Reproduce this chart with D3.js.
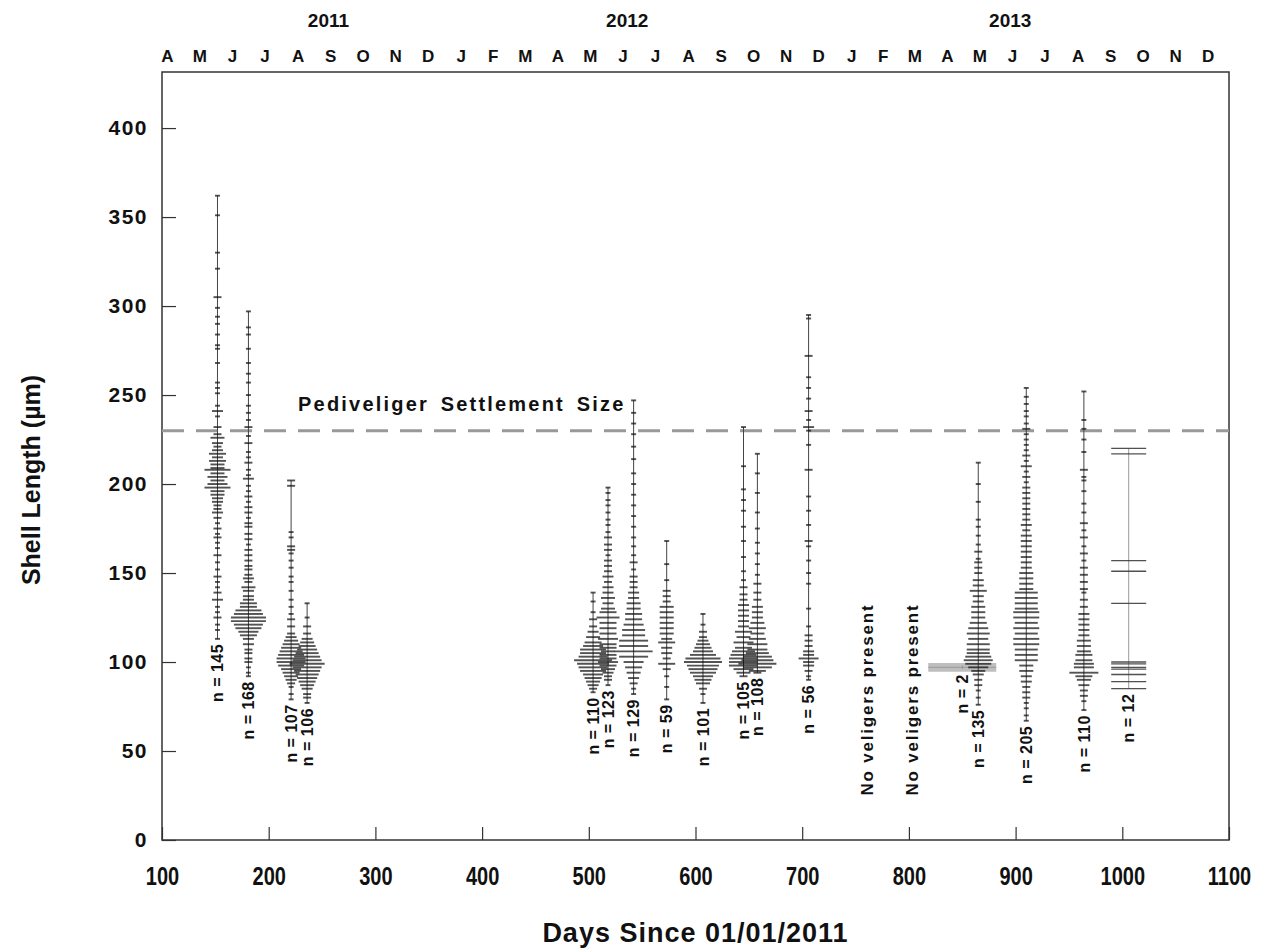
<!DOCTYPE html>
<html>
<head>
<meta charset="utf-8">
<script src="https://cdn.jsdelivr.net/npm/d3@7"></script>
<style>
  html, body { margin: 0; padding: 0; background: #fff; }
  svg { display: block; }
  text { font-family: "Liberation Sans", Arial, Helvetica, sans-serif; font-weight: bold; fill: #111; }
</style>
</head>
<body>
<svg id="chart" width="1271" height="951"></svg>
<script>
// Sampling days (days since 01/01/2011) for each veliger sample
const sampleDays = [152, 181, 221, 236, 504, 518, 542, 573, 607, 645, 658, 706, 850, 865, 910, 964, 1006];

// Distinct shell lengths (µm) measured in each sample
const lengths = [
  [362,351,330,321,305,299,294,290,284,278,276,268,257,254,251,244,241,238,232,228,226,223,221,219,217,215,213,211,209,208,206,204,202,200,198,196,194,192,190,188,186,184,181,178,175,172,170,167,164,160,156,152,148,145,142,139,135,131,128,125,121,118,113],
  [297,288,284,276,268,262,257,250,244,240,236,232,227,223,218,215,212,208,205,203,199,196,193,190,187,184,181,178,176,172,169,166,163,160,157,154,152,149,147,145,142,140,137,135,133,131,129,127,125,123,121,119,117,115,113,110,107,105,102,100,97,94,92],
  [202,199,173,170,165,163,161,157,153,148,145,140,135,131,127,124,120,116,114,112,110,108,106,104,102,100,98,96,94,92,90,88,86,82,79],
  [133,125,120,116,113,111,109,107,105,103,101,99,97,95,93,91,89,87,85,82,80,77],
  [139,134,128,124,120,117,114,111,109,107,105,103,101,99,97,95,93,91,89,87,85,83],
  [198,195,191,188,184,180,177,173,170,166,163,160,157,154,151,148,145,142,139,136,133,130,128,125,122,119,116,113,110,108,106,104,102,100,98,96,94,92,90,87],
  [247,240,234,228,221,214,206,200,194,188,182,176,170,165,160,156,152,148,145,142,139,136,133,130,127,124,121,118,115,112,109,106,103,100,97,94,91,88,85,82],
  [168,155,146,140,137,134,131,128,125,122,119,116,113,111,108,105,102,99,96,92,86,79],
  [127,121,117,114,112,110,108,106,104,102,100,98,96,94,92,90,88,85,82,77],
  [232,210,197,191,185,176,168,159,151,146,142,138,135,132,129,126,123,120,117,114,111,108,106,104,102,100,98,96,94,92],
  [217,206,195,184,175,167,161,155,149,144,139,135,131,128,125,122,119,116,113,110,107,105,103,101,99,97,95,94],
  [295,293,272,260,254,248,241,236,232,230,222,208,193,185,177,168,165,157,150,144,130,120,115,112,109,106,104,102,100,98,95,92,90],
  [98,96],
  [212,200,190,180,176,171,166,162,158,156,153,150,146,143,140,137,134,131,128,125,122,119,116,113,110,107,105,103,101,99,97,95,93,90,87,84,80,76],
  [254,249,245,241,238,234,231,228,225,222,219,216,213,210,207,204,201,198,195,192,189,186,183,180,177,174,171,168,165,162,159,156,153,150,147,144,141,139,136,133,130,128,125,122,119,116,113,110,107,104,101,98,95,92,89,86,83,80,77,74,70,67],
  [252,236,231,225,218,208,204,202,196,189,184,178,174,170,165,161,157,153,149,145,141,139,135,131,127,124,121,118,115,112,109,106,104,101,99,97,94,92,90,87,84,81,78,73],
  [220,217,157,151,133,100,99,97,96,93,89,85]
];

// Number of veligers measured at each of those lengths
const counts = [
  [1,1,1,1,2,1,1,1,1,1,1,1,1,1,1,1,3,1,2,2,4,3,2,3,5,3,5,4,4,8,4,6,4,6,8,4,4,3,3,2,2,3,2,1,2,1,2,1,1,2,1,1,2,1,1,2,3,1,1,2,1,1,1],
  [1,1,1,1,1,1,1,1,1,1,1,2,1,2,1,1,2,1,1,3,1,1,2,1,2,2,1,2,2,2,2,1,2,2,2,2,2,2,3,2,4,3,3,3,5,5,8,9,11,11,9,8,6,5,3,3,2,2,2,2,1,1,1],
  [2,2,1,1,2,2,1,1,1,1,1,1,1,1,1,2,2,2,3,4,5,6,7,8,9,9,8,6,5,4,3,2,1,1,1],
  [1,1,2,2,3,4,5,6,7,8,9,11,9,8,7,6,5,4,3,2,2,1],
  [1,1,1,2,2,3,4,5,6,8,8,9,12,10,9,8,6,5,4,3,2,1],
  [1,1,1,1,1,1,1,1,2,2,2,1,2,2,2,3,2,3,3,4,3,4,5,7,5,5,5,6,5,5,4,5,5,6,5,4,3,2,2,1],
  [1,1,1,1,1,1,1,1,1,1,1,1,1,1,1,2,1,2,2,2,3,3,4,4,5,5,6,7,7,9,9,12,9,6,5,4,3,2,1,1],
  [1,1,1,2,2,2,4,4,4,4,4,4,3,5,3,3,2,5,2,1,1,1],
  [1,1,2,2,3,4,5,6,8,11,12,10,9,8,6,5,4,2,1,1],
  [1,1,1,1,1,1,1,1,1,1,2,2,2,3,3,3,3,3,5,4,6,5,7,8,9,9,9,6,4,2],
  [1,1,1,1,1,1,1,1,1,2,2,2,3,3,3,4,5,4,5,6,6,7,9,10,12,9,5,2],
  [1,1,2,1,1,1,2,1,3,1,1,2,1,1,1,2,1,1,1,1,1,1,2,2,2,3,3,6,3,3,2,1,1],
  [1,1],
  [1,1,1,1,1,1,1,2,1,2,2,2,3,3,5,3,3,4,4,4,5,6,7,6,7,7,7,8,9,8,6,4,3,2,2,1,1,1],
  [1,1,1,1,1,1,2,1,1,1,1,2,1,3,1,2,1,2,2,2,2,2,2,2,3,2,3,3,3,3,3,3,3,4,4,4,4,7,7,7,7,8,8,7,8,7,8,8,7,7,7,4,4,3,3,2,2,2,1,1,1,1],
  [1,1,1,1,1,2,1,1,1,1,1,2,1,2,1,2,1,2,2,2,2,1,2,2,3,3,3,3,3,4,4,4,5,5,6,6,9,5,4,3,2,2,1,1],
  [1,1,1,1,1,1,1,1,1,1,1,1]
];

// Sampling days on which no veligers were found
const emptyDays = [761, 803];
const emptyText = "No veligers present";

// Settlement threshold
const settlementSize = 230;
const settlementText = "Pediveliger Settlement Size";

// Axis ticks and labels
const xTicks = [100, 200, 300, 400, 500, 600, 700, 800, 900, 1000, 1100];
const yTicks = [0, 50, 100, 150, 200, 250, 300, 350, 400];
const monthLetters = ["A","M","J","J","A","S","O","N","D",
                      "J","F","M","A","M","J","J","A","S","O","N","D",
                      "J","F","M","A","M","J","J","A","S","O","N","D"];
const firstMonth = "2011-04-01";
const years = ["2011", "2012", "2013"];
const yearAnchors = ["2011-09-14", "2012-06-20", "2013-06-14"];
const xTitle = "Days Since 01/01/2011";
const yTitle = "Shell Length (µm)";

// ---------------------------------------------------------------
const svg = d3.select("#chart");
const M = { left: 162, right: 1229, top: 72, bottom: 840 };

const x = d3.scaleLinear().domain([100, 1100]).range([M.left, M.right]);
const y = d3.scaleLinear().domain([0, 431.5]).range([M.bottom, M.top]);

const parseDay = d3.utcParse("%Y-%m-%d");
const origin = parseDay("2011-01-01");
const dayOf = date => (date - origin) / 864e5;

// Plot frame
svg.append("rect")
  .attr("x", M.left).attr("y", M.top)
  .attr("width", M.right - M.left).attr("height", M.bottom - M.top)
  .attr("fill", "none").attr("stroke", "#333").attr("stroke-width", 1.5);

// Bottom axis: inward ticks, condensed labels below
const xAxis = svg.append("g").attr("transform", `translate(0,${M.bottom})`)
  .call(d3.axisBottom(x).tickValues(xTicks).tickFormat(d3.format("d"))
    .tickSizeInner(-13).tickSizeOuter(0).tickPadding(27));
xAxis.select(".domain").remove();
xAxis.selectAll(".tick line").attr("stroke", "#333").attr("stroke-width", 1.2);
xAxis.selectAll(".tick text")
  .attr("transform", "scale(0.8,1)")
  .style("font-weight", "bold").style("font-size", "25px").attr("fill", "#111");

// Left axis: inward ticks, labels left
const yAxis = svg.append("g").attr("transform", `translate(${M.left},0)`)
  .call(d3.axisLeft(y).tickValues(yTicks).tickSizeInner(-14).tickSizeOuter(0).tickPadding(14));
yAxis.select(".domain").remove();
yAxis.selectAll(".tick line").attr("stroke", "#333").attr("stroke-width", 1.2);
yAxis.selectAll(".tick text")
  .style("font-weight", "bold").style("font-size", "21px")
  .style("letter-spacing", "1.5px").attr("fill", "#111");

// Month letters along the top, centred on each month
const monthStarts = d3.utcMonth.range(parseDay(firstMonth),
  d3.utcMonth.offset(parseDay(firstMonth), monthLetters.length + 1));
svg.append("g").selectAll("text")
  .data(monthLetters)
  .join("text")
  .attr("x", (d, i) => x((dayOf(monthStarts[i]) + dayOf(monthStarts[i + 1])) / 2))
  .attr("y", 62)
  .attr("text-anchor", "middle")
  .style("font-size", "17px")
  .text(d => d);

// Year labels
svg.append("g").selectAll("text")
  .data(years)
  .join("text")
  .attr("x", (d, i) => x(dayOf(parseDay(yearAnchors[i]))))
  .attr("y", 27)
  .attr("text-anchor", "middle")
  .style("font-size", "19px")
  .text(d => d);

// Axis titles
svg.append("text")
  .attr("x", (M.left + M.right) / 2).attr("y", 942)
  .attr("text-anchor", "middle")
  .style("font-size", "27px")
  .style("letter-spacing", "1px")
  .text(xTitle);

svg.append("text")
  .attr("transform", `translate(40,${(M.top + M.bottom) / 2 + 24}) rotate(-90)`)
  .attr("text-anchor", "middle")
  .style("font-size", "25px")
  .text(yTitle);

// Settlement size reference line
svg.append("line")
  .attr("x1", M.left).attr("x2", M.right)
  .attr("y1", y(settlementSize)).attr("y2", y(settlementSize))
  .attr("stroke", "#999").attr("stroke-width", 3)
  .attr("stroke-dasharray", "22,12");

svg.append("text")
  .attr("x", x(227.5)).attr("y", y(settlementSize) - 20)
  .style("font-size", "20px")
  .style("letter-spacing", "2.2px")
  .style("word-spacing", "4px")
  .text(settlementText);

// Bean-style strip for each sample
const samples = sampleDays.map((day, i) => ({
  day,
  values: lengths[i].map((v, j) => ({ v, c: counts[i][j] })),
  n: d3.sum(counts[i]),
  min: d3.min(lengths[i]),
  max: d3.max(lengths[i])
}));

const beans = svg.append("g").selectAll("g")
  .data(samples)
  .join("g");

beans.append("line")
  .attr("x1", d => x(d.day)).attr("x2", d => x(d.day))
  .attr("y1", d => y(d.min)).attr("y2", d => y(d.max))
  .attr("stroke", d => d.n < 3 ? "#aaa" : (d.n < 20 ? "#999" : "#444"))
  .attr("stroke-width", 1);

// line length grows with the number of shells at that length
const tickWidth = (n, c) => n < 20 ? 35 : 5 + 3 * (c - 1);

beans.each(function (d) {
  const g = d3.select(this);
  const cx = x(d.day);
  if (d.n < 3) {
    // very small sample: drawn as a broad grey bar
    g.selectAll("line.obs").data(d.values).join("line")
      .attr("class", "obs")
      .attr("x1", cx - 34).attr("x2", cx + 34)
      .attr("y1", e => y(e.v)).attr("y2", e => y(e.v))
      .attr("stroke", "#888").attr("stroke-opacity", 0.55).attr("stroke-width", 5);
    return;
  }
  g.selectAll("line.obs").data(d.values).join("line")
    .attr("class", "obs")
    .attr("x1", e => cx - tickWidth(d.n, e.c) / 2).attr("x2", e => cx + tickWidth(d.n, e.c) / 2)
    .attr("y1", e => y(e.v)).attr("y2", e => y(e.v))
    .attr("stroke", d.n < 20 ? "#333" : "#111")
    .attr("stroke-opacity", d.n < 20 ? 0.85 : 0.72)
    .attr("stroke-width", d.n < 20 ? 1.3 : 1.9);
});

// Sample size labels under each strip
beans.append("text")
  .attr("transform", d => `translate(${x(d.day)},${y(d.min) + 5}) rotate(-90)`)
  .attr("dy", "0.36em")
  .attr("text-anchor", "end")
  .style("font-size", "16px")
  .style("letter-spacing", "0.5px")
  .text(d => `n = ${d.n}`);

// Sampling dates with no veligers
svg.append("g").selectAll("text")
  .data(emptyDays)
  .join("text")
  .attr("transform", d => `translate(${x(d)},${y(25)}) rotate(-90)`)
  .attr("dy", "0.36em")
  .attr("text-anchor", "start")
  .style("font-size", "17px")
  .style("letter-spacing", "1.8px")
  .text(emptyText);
</script>
</body>
</html>
